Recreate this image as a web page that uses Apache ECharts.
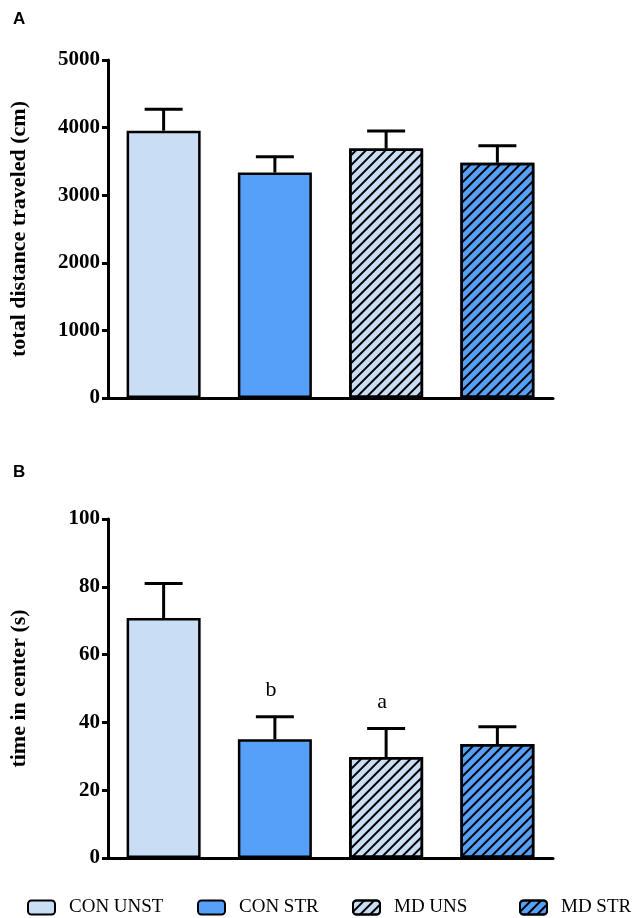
<!DOCTYPE html>
<html><head><meta charset="utf-8">
<script src="https://cdn.jsdelivr.net/npm/echarts@6/dist/echarts.min.js"></script>
<style>html,body{margin:0;padding:0;background:#fff}#c{width:632px;height:918px}</style>
</head><body><div id="c"></div>
<script>
const groups = ['CON UNST', 'CON STR', 'MD UNS', 'MD STR'];
const distMean = [3955, 3335, 3690, 3480];
const distSem = [315, 235, 260, 250];
const centerMean = [70.8, 35.0, 29.8, 33.6];
const centerSem = [10.2, 6.7, 8.4, 5.1];
const centerLetters = ['', 'b', 'a', ''];
const distTicks = {min: 0, max: 5000, interval: 1000};
const centerTicks = {min: 0, max: 100, interval: 20};

const lightBlue = '#c9ddf5';
const midBlue = '#57a0f9';
const fills = [lightBlue, midBlue, lightBlue, midBlue];
const hatched = [false, false, true, true];
const serif = "'Liberation Serif','Times New Roman',serif";

const hatch = {color: '#000', symbol: 'rect', symbolSize: 1, dashArrayX: [1, 0], dashArrayY: [1.8, 4.2], rotation: -Math.PI / 4};

function itemStyleFor(i) {
  const s = {color: fills[i], borderColor: '#000', borderWidth: 2.5};
  if (hatched[i]) s.decal = hatch;
  return s;
}

const series = [];
const grids = [
  {left: 108, right: 79, top: 60, height: 338},
  {left: 108, right: 79, top: 519, height: 339}
];
const sets = [[distMean, distSem, null], [centerMean, centerSem, centerLetters]];
sets.forEach(([means, sems, letters], g) => {
  groups.forEach((name, i) => {
    series.push({
      type: 'bar', name: name, xAxisIndex: g, yAxisIndex: g, stack: 'p' + g,
      barWidth: 74, itemStyle: itemStyleFor(i), emphasis: {disabled: true},
      data: means.map((m, j) => j === i ? m : '-')
    });
  });
  series.push({
    type: 'custom', xAxisIndex: g, yAxisIndex: g, z: 5, silent: true,
    encode: {x: 0, y: [1, 2]},
    data: means.map((m, j) => [j, m, m + sems[j]]),
    renderItem: function (params, api) {
      const x = api.value(0);
      const lo = api.coord([x, api.value(1)]);
      const hi = api.coord([x, api.value(2)]);
      const st = {stroke: '#000', lineWidth: 3};
      const children = [
        {type: 'line', shape: {x1: lo[0], y1: lo[1], x2: hi[0], y2: hi[1]}, style: st},
        {type: 'line', shape: {x1: hi[0] - 19, y1: hi[1], x2: hi[0] + 19, y2: hi[1]}, style: st}
      ];
      const t = letters ? letters[params.dataIndex] : '';
      if (t) {
        children.push({type: 'text', x: hi[0] - 4, y: hi[1] - 26,
          style: {text: t, fill: '#000', font: '22px ' + serif, align: 'center', verticalAlign: 'middle'}});
      }
      return {type: 'group', children: children};
    }
  });
});

const yNames = ['total distance traveled (cm)', 'time in center (s)'];
const yTicks = [distTicks, centerTicks];
const legendLefts = [27, 197, 352, 519];

const option = {
  animation: false,
  backgroundColor: '#fff',
  title: [
    {text: 'A', left: 8, top: 6, textStyle: {fontFamily: "'Liberation Sans',Arial,sans-serif", fontWeight: 'bold', fontSize: 17, color: '#000'}},
    {text: 'B', left: 8, top: 459, textStyle: {fontFamily: "'Liberation Sans',Arial,sans-serif", fontWeight: 'bold', fontSize: 17, color: '#000'}}
  ],
  grid: grids,
  xAxis: grids.map((_, g) => ({
    type: 'category', gridIndex: g, data: groups,
    axisLine: {lineStyle: {color: '#000', width: 3}},
    axisTick: {show: false}, axisLabel: {show: false}, splitLine: {show: false}
  })),
  yAxis: grids.map((_, g) => ({
    type: 'value', gridIndex: g, min: yTicks[g].min, max: yTicks[g].max, interval: yTicks[g].interval,
    name: yNames[g], nameLocation: 'middle', nameGap: 78, nameRotate: 90,
    nameTextStyle: {fontFamily: serif, fontWeight: 'bold', fontSize: 22, color: '#000'},
    axisLine: {show: true, lineStyle: {color: '#000', width: 3}},
    axisTick: {show: true, length: 6, lineStyle: {color: '#000', width: 3}},
    axisLabel: {fontFamily: serif, fontWeight: 'bold', fontSize: 21, color: '#000', margin: 8,
      formatter: v => String(v)},
    splitLine: {show: false}
  })),
  legend: groups.map((name, i) => ({
    data: [name], left: legendLefts[i], top: 898, padding: 0, itemWidth: 27, itemHeight: 14,
    selectedMode: false,
    textStyle: {fontFamily: serif, fontSize: 19, color: '#000', padding: [0, 0, 0, 9]}
  })),
  series: series
};
echarts.init(document.getElementById('c')).setOption(option);
</script></body></html>
